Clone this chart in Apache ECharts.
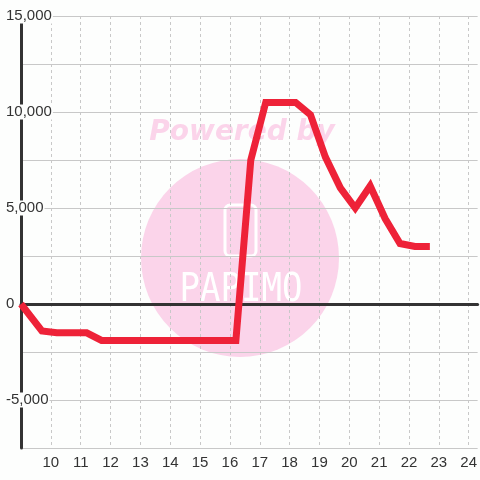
<!DOCTYPE html>
<html>
<head>
<meta charset="utf-8">
<script src="https://cdn.jsdelivr.net/npm/echarts@6/dist/echarts.min.js"></script>
<style>
html,body{margin:0;padding:0;background:#fdfefd;}
#chart{width:480px;height:480px;}
</style>
</head>
<body>
<div id="chart"></div>
<script>
// Data
const xValues = [9, 9.7, 10.2, 10.7, 11.2, 11.7, 12.2, 12.7, 13.2, 13.7, 14.2, 14.7, 15.2, 15.7, 16.2,
                 16.7, 17.2, 17.7, 18.2, 18.7, 19.2, 19.7, 20.2, 20.7, 21.2, 21.7, 22.2, 22.7];
const yValues = [0, -1400, -1500, -1500, -1500, -1900, -1900, -1900, -1900, -1900, -1900, -1900, -1900, -1900, -1900,
                 7500, 10500, 10500, 10500, 9850, 7650, 6050, 5000, 6150, 4450, 3150, 3000, 3000];
const yTickLabels = {15000: '15,000', 10000: '10,000', 5000: '5,000', 0: '0', '-5000': '-5,000'};
const xTickLabels = [10, 11, 12, 13, 14, 15, 16, 17, 18, 19, 20, 21, 22, 23, 24];

const chart = echarts.init(document.getElementById('chart'), null, {renderer: 'canvas'});
const bg = '#fdfefd';
const pink = '#fbd4ea';

const option = {
  backgroundColor: bg,
  animation: false,
  textStyle: {fontFamily: '"Liberation Sans", Arial, sans-serif'},
  grid: {left: 21, right: 0, top: 16, bottom: 32, containLabel: false},
  graphic: [
    {type: 'circle', z: -10, silent: true, shape: {cx: 240, cy: 258, r: 99}, style: {fill: pink}},
    {type: 'text', z: -10, silent: true, x: 242, y: 133,
     style: {text: 'Powered by', fill: pink, font: 'italic bold 28px "DejaVu Sans"', align: 'center', verticalAlign: 'middle'}},
    {type: 'rect', z: -9, silent: true, shape: {x: 225, y: 205, width: 31, height: 51, r: 5},
     style: {fill: 'none', stroke: '#ffffff', lineWidth: 3}},
    {type: 'text', z: -9, silent: true, x: 241, y: 291, scaleY: 1.15, scaleX: 1,
     style: {text: 'PAPIMO', fill: '#ffffff', font: '34px "DejaVu Sans Mono"', align: 'center', verticalAlign: 'middle'}}
  ],
  xAxis: [{
    type: 'value', min: 9, max: 24.3, interval: 1,
    axisLine: {show: false, onZero: false},
    axisTick: {show: false},
    axisLabel: {
      color: '#333', fontSize: 15, margin: 7, showMaxLabel: false,
      formatter: v => (xTickLabels.indexOf(v) >= 0 ? String(v) : '')
    },
    splitLine: {show: true, showMaxLine: false, lineStyle: {color: '#c8c8c8', width: 1, type: [3, 3]}}
  }, {
    type: 'value', min: 9, max: 24.3, position: 'top',
    axisLine: {show: true, onZero: true, lineStyle: {color: '#333', width: 3}},
    axisTick: {show: false}, axisLabel: {show: false}, splitLine: {show: false}
  }],
  yAxis: {
    type: 'value', min: -7500, max: 15000, interval: 2500,
    axisLine: {show: true, onZero: false, lineStyle: {color: '#333', width: 3}},
    axisTick: {show: false},
    axisLabel: {
      align: 'left', margin: 16,
      formatter: v => (yTickLabels[v] !== undefined ? '{a|' + yTickLabels[v] + '}' : ''),
      rich: {a: {color: '#333', fontSize: 15, backgroundColor: bg, lineHeight: 14, padding: [0, 1]}}
    },
    splitLine: {show: true, lineStyle: {color: '#c8c8c8', width: 1}}
  },
  series: [{
    type: 'line', xAxisIndex: 0, yAxisIndex: 0,
    data: xValues.map((x, i) => [x, yValues[i]]),
    showSymbol: false, symbol: 'none',
    lineStyle: {color: '#ee2238', width: 7, join: 'miter', cap: 'butt'},
    z: 5
  }]
};
chart.setOption(option);
</script>
</body>
</html>
